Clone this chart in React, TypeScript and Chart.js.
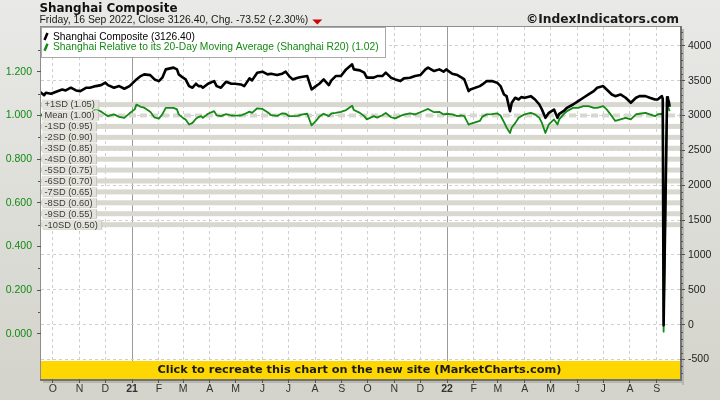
import React, { useEffect, useRef } from "react";
import { Chart, registerables } from "chart.js";
Chart.register(...registerables);

// ---------------- data ----------------
const dates: string[] = [
  "2020-09-16","2020-09-21","2020-09-23","2020-09-29","2020-10-05","2020-10-12","2020-10-16","2020-10-22","2020-10-28","2020-11-02",
  "2020-11-09","2020-11-13","2020-11-20","2020-11-26","2020-12-01","2020-12-04","2020-12-11","2020-12-17","2020-12-23","2020-12-29",
  "2021-01-04","2021-01-06","2021-01-11","2021-01-15","2021-01-22","2021-01-27","2021-02-01","2021-02-05","2021-02-09","2021-02-18",
  "2021-02-22","2021-02-24","2021-03-01","2021-03-04","2021-03-08","2021-03-12","2021-03-16","2021-03-19","2021-03-22","2021-03-24",
  "2021-03-30","2021-04-06","2021-04-09","2021-04-14","2021-04-20","2021-04-26","2021-04-30","2021-05-07","2021-05-11","2021-05-17",
  "2021-05-20","2021-05-26","2021-06-01","2021-06-07","2021-06-11","2021-06-18","2021-06-24","2021-06-28","2021-07-02","2021-07-06",
  "2021-07-12","2021-07-16","2021-07-23","2021-07-28","2021-08-02","2021-08-06","2021-08-11","2021-08-17","2021-08-20","2021-08-25",
  "2021-08-31","2021-09-06","2021-09-13","2021-09-15","2021-09-22","2021-09-27","2021-09-30","2021-10-08","2021-10-12","2021-10-18",
  "2021-10-22","2021-10-28","2021-11-02","2021-11-08","2021-11-12","2021-11-19","2021-11-25","2021-12-01","2021-12-07","2021-12-10",
  "2021-12-17","2021-12-23","2021-12-28","2021-12-31","2022-01-07","2022-01-13","2022-01-18","2022-01-21","2022-01-26","2022-01-28",
  "2022-02-08","2022-02-11","2022-02-16","2022-02-22","2022-02-28","2022-03-04","2022-03-08","2022-03-11","2022-03-15","2022-03-17",
  "2022-03-21","2022-03-25","2022-03-28","2022-04-01","2022-04-08","2022-04-13","2022-04-18","2022-04-21","2022-04-25","2022-04-29",
  "2022-05-05","2022-05-09","2022-05-11","2022-05-16","2022-05-20","2022-05-27","2022-06-02","2022-06-08","2022-06-14","2022-06-20",
  "2022-06-24","2022-07-01","2022-07-05","2022-07-11","2022-07-15","2022-07-21","2022-07-27","2022-08-02","2022-08-08","2022-08-12",
  "2022-08-19","2022-08-24","2022-08-30","2022-09-02","2022-09-07","2022-09-08","2022-09-09","2022-09-13","2022-09-14","2022-09-15",
  "2022-09-16",
];

const shanghai: number[] = [
  3341,3292,3327,3312,3341,3374,3360,3399,3360,3350,
  3399,3399,3422,3436,3471,3436,3399,3422,3384,3422,
  3494,3518,3566,3590,3580,3518,3494,3543,3662,3687,
  3662,3590,3543,3518,3422,3399,3456,3422,3422,3399,
  3456,3494,3422,3399,3485,3456,3456,3446,3422,3533,
  3504,3615,3629,3590,3600,3580,3600,3629,3566,3518,
  3543,3552,3566,3374,3422,3456,3518,3436,3504,3566,
  3566,3662,3734,3662,3648,3615,3543,3543,3566,3566,
  3615,3543,3518,3494,3533,3543,3566,3580,3662,3687,
  3638,3662,3629,3662,3600,3580,3543,3518,3350,3374,
  3422,3446,3494,3494,3471,3422,3302,3278,3062,3183,
  3255,3230,3264,3255,3278,3230,3158,3086,2967,3039,
  3086,2967,3024,3062,3111,3158,3206,3255,3302,3350,
  3399,3422,3374,3302,3278,3302,3255,3183,3255,3278,
  3278,3255,3230,3230,3278,3240,-10,3262,3237,3200,
  3126.4,
];

const r20: number[] = [
  1.010,0.992,1.000,0.996,1.004,1.014,1.006,1.014,0.995,0.990,
  1.010,1.005,1.030,1.018,1.004,0.997,1.005,0.994,0.989,1.010,
  1.028,1.050,1.040,1.036,1.017,0.991,0.986,1.005,1.035,1.035,
  1.028,1.005,0.989,0.982,0.959,0.966,0.985,0.993,0.997,0.989,
  1.008,1.020,1.001,0.997,1.006,1.000,0.999,1.000,1.006,1.018,
  1.012,1.033,1.030,1.015,1.002,0.998,1.010,1.008,0.997,0.997,
  0.998,1.004,1.008,0.955,0.975,0.995,1.008,0.997,1.010,1.012,
  1.017,1.025,1.045,1.025,1.012,0.997,0.982,0.997,0.990,1.001,
  1.012,0.992,0.987,0.998,1.004,1.010,1.005,1.015,1.025,1.030,
  1.015,1.017,1.005,1.008,1.005,0.997,1.000,0.997,0.958,0.962,
  0.975,0.995,1.005,1.006,1.010,1.000,0.970,0.945,0.920,0.945,
  0.965,0.990,0.997,1.005,1.012,1.005,0.989,0.966,0.920,0.959,
  0.982,0.959,0.982,1.005,1.020,1.035,1.035,1.043,1.043,1.035,
  1.035,1.043,1.028,0.997,0.975,0.982,0.989,0.982,1.005,1.008,
  1.012,1.005,0.997,1.005,1.008,1.000,0.010,1.055,1.040,1.030,
  1.020,
];

const sdLevels: number[] = [1.05, 0.95, 0.9, 0.85, 0.8, 0.75, 0.7, 0.65, 0.6, 0.55, 0.5];
const sdNames: string[] = ["+1SD", "-1SD", "-2SD", "-3SD", "-4SD", "-5SD", "-6SD", "-7SD", "-8SD", "-9SD", "-10SD"];
const meanLevel = 1.0;
const meanName = "Mean";

const leftTicks: number[] = [0, 0.2, 0.4, 0.6, 0.8, 1.0, 1.2];
const rightTicks: number[] = [-500, 0, 500, 1000, 1500, 2000, 2500, 3000, 3500, 4000];
const monthLetters: string[] = ["J", "F", "M", "A", "M", "J", "J", "A", "S", "O", "N", "D"];
const firstMonth = "2020-10-01";
const lastMonth = "2022-09-01";

const titleText = "Shanghai Composite";
const subtitleText = "Friday, 16 Sep 2022, Close 3126.40, Chg. -73.52 (-2.30%)";
const copyrightText = "\u00A9IndexIndicators.com";
const bannerText = "Click to recreate this chart on the new site (MarketCharts.com)";
const seriesLabels: string[] = [
  "Shanghai Composite (3126.40)",
  "Shanghai Relative to its 20-Day Moving Average (Shanghai R20) (1.02)",
];

// ---------------- helpers ----------------
const DAY = 86400000;
const toDay = (s: string) => {
  const [y, m, d] = s.split("-").map(Number);
  return Date.UTC(y, m - 1, d) / DAY;
};
const X_ORIGIN = toDay(firstMonth);
const X_MIN = X_ORIGIN - 13.6;
const X_MAX = X_ORIGIN + 727;

const REG = "'Liberation Sans', Arial, sans-serif";
const BOLD = "'DejaVu Sans', Verdana, sans-serif";
const GREEN = "#138a13";

function monthTickList() {
  const out: { value: number; label: string; year: boolean }[] = [];
  let [y, m] = firstMonth.split("-").map(Number);
  const [ey, em] = lastMonth.split("-").map(Number);
  m = m - 1;
  while (y < ey || (y === ey && m <= em - 1)) {
    const v = Date.UTC(y, m, 1) / DAY;
    out.push({ value: v, label: m === 0 ? String(y % 100) : monthLetters[m], year: m === 0 });
    m++;
    if (m > 11) { m = 0; y++; }
  }
  return out;
}
const MONTHS = monthTickList();
const isYear = (v: number) => MONTHS.some((t) => t.year && Math.abs(t.value - v) < 0.01);

function fitFont(ctx: CanvasRenderingContext2D, text: string, weight: string, family: string, target: number) {
  ctx.font = `${weight} 10px ${family}`;
  const w = ctx.measureText(text).width;
  const size = (10 * target) / w;
  ctx.font = `${weight} ${size.toFixed(2)}px ${family}`;
}

const decorPlugin = {
  id: "decor",
  beforeDraw(chart: any) {
    const { ctx, chartArea: a, width, height } = chart;
    ctx.save();
    const g = ctx.createLinearGradient(0, 0, 0, height);
    g.addColorStop(0, "#e9e9e7");
    g.addColorStop(1, "#d3d3cb");
    ctx.fillStyle = g;
    ctx.fillRect(0, 0, width, height);
    ctx.fillStyle = "#ffffff";
    ctx.fillRect(a.left, a.top, a.right - a.left, a.bottom - a.top);
    // frame: light left/top, heavy right/bottom with shadow
    ctx.fillStyle = "#b6b6b0";
    ctx.fillRect(a.right + 2, a.top + 2, 2, a.bottom - a.top + 4);
    ctx.fillRect(a.left + 2, a.bottom + 2, a.right - a.left + 2, 2);
    ctx.fillStyle = "#727272";
    ctx.fillRect(a.right, a.top - 1, 2, a.bottom - a.top + 3);
    ctx.fillRect(a.left - 1, a.bottom, a.right - a.left + 3, 2);
    ctx.fillStyle = "#8e8e8e";
    ctx.fillRect(a.left - 1, a.top - 1, 1, a.bottom - a.top + 1);
    ctx.fillRect(a.left - 1, a.top - 1, a.right - a.left + 1, 1);
    ctx.restore();
  },
  beforeDatasetsDraw(chart: any) {
    const { ctx, chartArea: a } = chart;
    const yL = chart.scales.yL;
    ctx.save();
    ctx.beginPath();
    ctx.rect(a.left, a.top, a.right - a.left, a.bottom - a.top);
    ctx.clip();
    ctx.fillStyle = "#d8d8d0";
    for (const lvl of sdLevels) {
      const y = yL.getPixelForValue(lvl);
      ctx.fillRect(a.left, y - 2.5, a.right - a.left, 5);
    }
    const ym = yL.getPixelForValue(meanLevel);
    ctx.strokeStyle = "#d8d8d0";
    ctx.lineWidth = 4;
    ctx.setLineDash([7, 4]);
    ctx.beginPath();
    ctx.moveTo(a.left, ym);
    ctx.lineTo(a.right, ym);
    ctx.stroke();
    ctx.restore();
  },
  afterDatasetsDraw(chart: any) {
    const { ctx, chartArea: a } = chart;
    const yL = chart.scales.yL;
    ctx.save();
    // SD labels
    const labels = [{ lvl: meanLevel, text: `${meanName} (${meanLevel.toFixed(2)})` }].concat(
      sdLevels.map((l, i) => ({ lvl: l, text: `${sdNames[i]} (${l.toFixed(2)})` }))
    );
    ctx.font = `9.3px ${REG}`;
    ctx.textBaseline = "middle";
    for (const lb of labels) {
      const y = yL.getPixelForValue(lb.lvl);
      const w = ctx.measureText(lb.text).width + 6;
      const x = a.left + 1;
      ctx.fillStyle = "#c6c6be";
      ctx.fillRect(x + 1, y - 4.5, w, 9.5);
      ctx.fillStyle = "#e3e3db";
      ctx.fillRect(x, y - 5, w, 9.5);
      ctx.fillStyle = "#3a3a3a";
      ctx.fillText(lb.text, x + 2.5, y + 0.3);
    }
    // banner
    const by = a.bottom - 18;
    ctx.fillStyle = "#ffd700";
    ctx.fillRect(a.left, by, a.right - a.left, a.bottom - by);
    fitFont(ctx, bannerText, "bold", BOLD, 404);
    ctx.fillStyle = "#1a1a1a";
    ctx.textAlign = "center";
    ctx.textBaseline = "middle";
    ctx.fillText(bannerText, (a.left + a.right) / 2 - 1, by + 9.5);
    // legend box
    ctx.textAlign = "left";
    ctx.textBaseline = "alphabetic";
    ctx.fillStyle = "#ffffff";
    ctx.fillRect(a.left, a.top, 344, 30);
    ctx.strokeStyle = "#a8a8a8";
    ctx.lineWidth = 1;
    ctx.strokeRect(a.left + 0.5, a.top + 0.5, 344, 30);
    const colors = ["#000000", GREEN];
    const targets = [142, 326];
    const bases = [a.top + 12.5, a.top + 23.3];
    seriesLabels.forEach((t, i) => {
      ctx.strokeStyle = colors[i];
      ctx.lineWidth = 2.5;
      ctx.beginPath();
      ctx.moveTo(a.left + 3.5, bases[i] + 0.5);
      ctx.lineTo(a.left + 6.5, bases[i] - 6.5);
      ctx.stroke();
      fitFont(ctx, t, "normal", REG, targets[i]);
      ctx.fillStyle = colors[i];
      ctx.fillText(t, a.left + 12, bases[i]);
    });
    ctx.restore();
  },
  afterDraw(chart: any) {
    const { ctx, chartArea: a } = chart;
    const yR = chart.scales.yR;
    const yL = chart.scales.yL;
    ctx.save();
    // minor ticks
    ctx.fillStyle = "#555";
    for (let v = -700; v <= 4200; v += 100) {
      if (v % 500 === 0) continue;
      const y = Math.round(yR.getPixelForValue(v));
      ctx.fillRect(a.right + 1, y, 2, 1);
    }
    for (let v = 0.1; v <= 1.35; v += 0.2) {
      const y = Math.round(yL.getPixelForValue(v));
      ctx.fillRect(a.left - 3, y, 2, 1);
    }
    // titles
    ctx.textBaseline = "alphabetic";
    ctx.textAlign = "left";
    ctx.fillStyle = "#111";
    fitFont(ctx, titleText, "bold", BOLD, 138);
    ctx.fillText(titleText, 39.5, 11.8);
    fitFont(ctx, subtitleText, "normal", REG, 269);
    ctx.fillStyle = "#1a1a1a";
    ctx.fillText(subtitleText, 39.5, 22.6);
    const tx = 39.5 + ctx.measureText(subtitleText).width + 4;
    ctx.fillStyle = "#d40000";
    ctx.beginPath();
    ctx.moveTo(tx, 19.5);
    ctx.lineTo(tx + 10, 19.5);
    ctx.lineTo(tx + 5, 24.5);
    ctx.closePath();
    ctx.fill();
    fitFont(ctx, copyrightText, "bold", BOLD, 153);
    ctx.fillStyle = "#1a1a1a";
    ctx.textAlign = "right";
    ctx.fillText(copyrightText, 679, 22.6);
    ctx.restore();
  },
};

export default function App() {
  const ref = useRef<HTMLCanvasElement | null>(null);
  useEffect(() => {
    if (!ref.current) return;
    const blackData = dates.map((d, i) => ({ x: toDay(d), y: shanghai[i] }));
    const greenData = dates.map((d, i) => ({ x: toDay(d), y: r20[i] }));
    const chart = new Chart(ref.current, {
      type: "line",
      data: {
        datasets: [
          {
            label: seriesLabels[0],
            data: blackData,
            yAxisID: "yR",
            borderColor: "#000000",
            borderWidth: 2.6,
            pointRadius: 0,
            tension: 0,
            borderJoinStyle: "round",
          },
          {
            label: seriesLabels[1],
            data: greenData,
            yAxisID: "yL",
            borderColor: GREEN,
            borderWidth: 1.8,
            pointRadius: 0,
            tension: 0,
            borderJoinStyle: "round",
          },
        ],
      },
      options: {
        animation: false,
        responsive: false,
        events: [],
        layout: { padding: { top: 27, left: 0, right: 0, bottom: 0 } },
        plugins: { legend: { display: false }, tooltip: { enabled: false }, title: { display: false } },
        scales: {
          x: {
            type: "linear",
            position: "bottom",
            min: X_MIN,
            max: X_MAX,
            afterFit: (s: any) => { s.height = 21; },
            afterBuildTicks: (s: any) => { s.ticks = MONTHS.map((t) => ({ value: t.value })); },
            ticks: {
              autoSkip: false,
              maxRotation: 0,
              padding: 0,
              color: "#333",
              font: (c: any) => ({ family: REG, size: 10.5, weight: c.tick && isYear(c.tick.value) ? "bold" : "normal" }),
              callback: (v: any) => {
                const t = MONTHS.find((m) => Math.abs(m.value - Number(v)) < 0.01);
                return t ? t.label : "";
              },
            },
            grid: {
              color: (c: any) => (c.tick && isYear(c.tick.value) ? "#9a9a9a" : "#cfcfcf"),
              lineWidth: 1,
              tickLength: 4,
              tickColor: "#555",
            },
            border: { display: false, dash: (c: any) => (c.tick && isYear(c.tick.value) ? [] : [3, 3]) },
          },
          yL: {
            type: "linear",
            position: "left",
            min: -0.207,
            max: 1.4054,
            afterFit: (s: any) => { s.width = 41; },
            afterBuildTicks: (s: any) => { s.ticks = leftTicks.map((v) => ({ value: v })); },
            ticks: {
              padding: 5,
              color: GREEN,
              font: { family: REG, size: 10.5 },
              callback: (v: any) => Number(v).toFixed(3),
            },
            grid: { drawOnChartArea: false, tickLength: 4, tickColor: "#555" },
            border: { display: false },
          },
          yR: {
            type: "linear",
            position: "right",
            min: -780,
            max: 4270,
            afterFit: (s: any) => { s.width = 40; },
            afterBuildTicks: (s: any) => { s.ticks = rightTicks.map((v) => ({ value: v })); },
            ticks: {
              padding: 3,
              color: "#222",
              font: { family: REG, size: 10.5 },
              callback: (v: any) => String(v),
            },
            grid: { color: "#cfcfcf", lineWidth: 1, tickLength: 5, tickColor: "#555" },
            border: { display: false, dash: [3, 3] },
          },
        },
      } as any,
      plugins: [decorPlugin],
    });
    return () => chart.destroy();
  }, []);
  return (
    <div style={{ position: "fixed", left: 0, top: 0, width: 720, height: 400 }}>
      <canvas ref={ref} width={720} height={400} style={{ display: "block", width: 720, height: 400 }} />
    </div>
  );
}
